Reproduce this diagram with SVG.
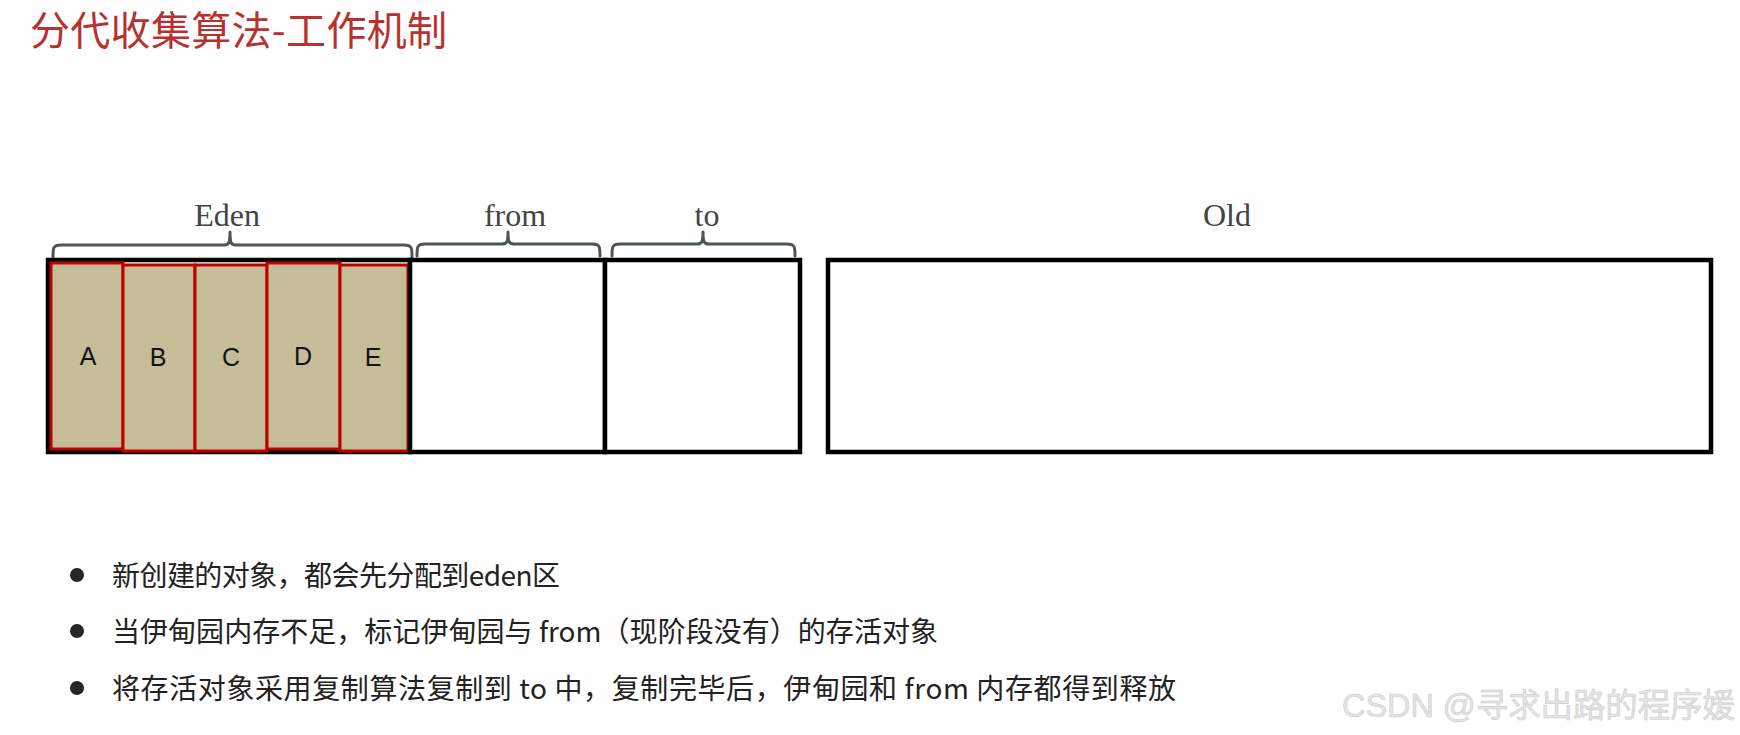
<svg xmlns="http://www.w3.org/2000/svg" width="1740" height="735" viewBox="0 0 1740 735">
<style>
.title{font-family:"Noto Sans CJK SC",sans-serif;font-size:40px;fill:#b8312f}
.lbl{font-family:"Liberation Serif",serif;font-size:32px;fill:#404545;text-anchor:middle}
.box{fill:#ffffff;stroke:#000000;stroke-width:4.5}
.obj{fill:#c4bd97;stroke:#c00000;stroke-width:3}
.let{font-family:"Liberation Sans",Arial,sans-serif;font-size:25px;fill:#111111;text-anchor:middle}
.brace{fill:none;stroke:#4d5656;stroke-width:3;stroke-linecap:round;stroke-linejoin:round}
.bul{font-family:"Noto Sans CJK SC",sans-serif;font-size:28px;fill:#222222}
.dot{fill:#262626}
.wm{font-family:"Liberation Sans","Noto Sans CJK SC",sans-serif;font-size:33px;fill:#e4e4e4;stroke:#cdcdcd;stroke-width:0.6}
</style>
<rect width="1740" height="735" fill="#ffffff"/>
<text id="title" class="title" x="30" y="45" textLength="417" lengthAdjust="spacing">分代收集算法-工作机制</text>

<g id="braces">
<path class="brace" d="M53,257 C53,248 53,245 61,245 H224 C229,245 230,243 230,232 C230,243 231,245 236,245 H404 C412,245 412,248 412,257"/>
<path class="brace" d="M417,256 C417,247 417,244 425,244 H502 C507,244 508,242 508,232 C508,242 509,244 514,244 H592 C600,244 600,247 600,256"/>
<path class="brace" d="M612,256 C612,247 612,244 620,244 H697 C702,244 703,242 703,232 C703,242 704,244 709,244 H787 C795,244 795,247 795,256"/>
</g>

<g id="label-eden"><text class="lbl" x="227" y="226">Eden</text></g>
<g id="label-from"><text class="lbl" x="515" y="226">from</text></g>
<g id="label-to"><text class="lbl" x="707" y="226">to</text></g>
<g id="label-old"><text class="lbl" x="1227" y="226">Old</text></g>

<g id="eden">
<rect class="box" x="48" y="260" width="362" height="192"/>
<g id="obj-a"><rect class="obj" x="51" y="263" width="72" height="186"/><text class="let" x="88" y="365">A</text></g>
<g id="obj-b"><rect class="obj" x="123" y="265" width="72" height="186"/><text class="let" x="158" y="366">B</text></g>
<g id="obj-c"><rect class="obj" x="195" y="265" width="72" height="186"/><text class="let" x="231" y="366">C</text></g>
<g id="obj-d"><rect class="obj" x="267" y="263" width="73" height="186"/><text class="let" x="303" y="365">D</text></g>
<g id="obj-e"><rect class="obj" x="340" y="265" width="68" height="186"/><text class="let" x="373" y="366">E</text></g>
</g>
<g id="from"><rect class="box" x="410" y="260" width="195" height="192"/></g>
<g id="to"><rect class="box" x="605" y="260" width="195" height="192"/></g>
<g id="old"><rect class="box" x="828" y="260" width="883" height="192"/></g>

<g id="bullets">
<circle class="dot" cx="77" cy="575" r="7"/>
<text class="bul" x="112" y="585.5" textLength="448" lengthAdjust="spacing">新创建的对象，都会先分配到eden区</text>
<circle class="dot" cx="77" cy="631" r="7"/>
<text class="bul" x="112" y="641.5" textLength="826" lengthAdjust="spacing">当伊甸园内存不足，标记伊甸园与 from（现阶段没有）的存活对象</text>
<circle class="dot" cx="77" cy="688" r="7"/>
<text class="bul" x="112" y="698.5" textLength="1064" lengthAdjust="spacing">将存活对象采用复制算法复制到 to 中，复制完毕后，伊甸园和 from 内存都得到释放</text>
</g>

<text id="watermark" class="wm" x="1342" y="717" textLength="393" lengthAdjust="spacingAndGlyphs">CSDN @寻求出路的程序媛</text>
</svg>
